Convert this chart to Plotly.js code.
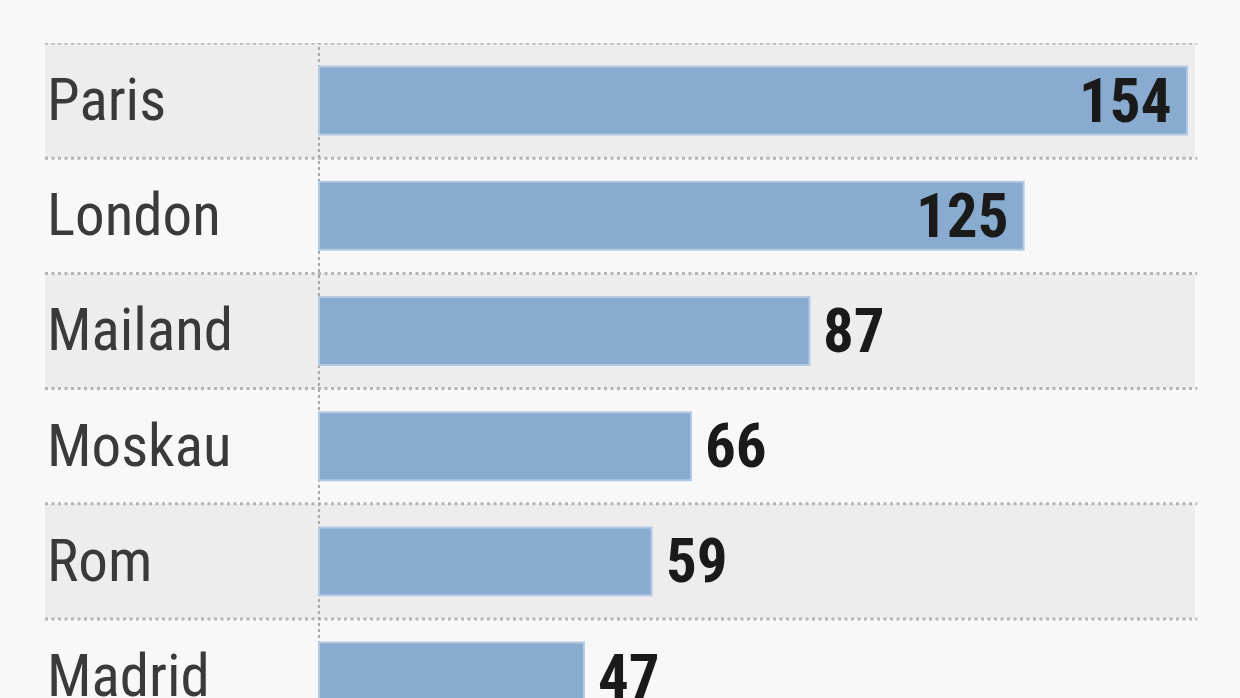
<!DOCTYPE html>
<html>
<head>
<meta charset="utf-8">
<script src="https://cdn.plot.ly/plotly-3.0.1.min.js"></script>
<style>
  html, body { margin: 0; padding: 0; background: #f8f8f8; }
  #chart { width: 1240px; height: 698px; }
</style>
</head>
<body>
<div id="chart"></div>
<script>
const cities = ['Paris', 'London', 'Mailand', 'Moskau', 'Rom', 'Madrid'];
const values = [154, 125, 87, 66, 59, 47];
const insideThreshold = 100;

const FONT = '"Roboto Condensed", "DejaVu Sans Condensed", sans-serif';

const shapes = [];
cities.forEach((c, i) => {
  if (i % 2 === 0) {
    shapes.push({
      type: 'rect', xref: 'paper', yref: 'y', x0: 0, x1: 1,
      y0: i - 0.5, y1: i + 0.5, fillcolor: '#ededee', line: { width: 0 }, layer: 'below'
    });
  }
});
for (let i = 0; i <= cities.length; i++) {
  shapes.push({
    type: 'line', xref: 'paper', yref: 'y', x0: 0, x1: 1.002,
    y0: i - 0.5, y1: i - 0.5,
    line: { color: '#b4b4b4', width: 3, dash: '3px,3.5px' }, layer: 'below'
  });
}
shapes.push({
  type: 'line', xref: 'x', yref: 'paper', x0: 0, x1: 0, y0: 0, y1: 1,
  line: { color: '#a8a8a8', width: 2, dash: '3px,3px' }, layer: 'below'
});

const annotations = [];
cities.forEach((c, i) => {
  annotations.push({
    xref: 'paper', yref: 'y', x: 0, y: c, xanchor: 'left', yanchor: 'middle',
    text: c, showarrow: false, xshift: 0, yshift: 1,
    font: { family: FONT, size: 59, color: '#3a3a3a' }
  });
  const inside = values[i] > insideThreshold;
  annotations.push({
    xref: 'x', yref: 'y', x: values[i], y: c,
    xanchor: inside ? 'right' : 'left', yanchor: 'middle',
    xshift: inside ? -14 : 12, yshift: 0,
    text: String(values[i]), showarrow: false,
    font: { family: FONT, size: 61, color: '#1a1a1a', weight: 'bold' }
  });
});

const trace = {
  type: 'bar', orientation: 'h', x: values, y: cities,
  width: 0.59,
  marker: { color: '#8aabd0', line: { color: '#b4c9e2', width: 2 } },
  hoverinfo: 'skip'
};

const layout = {
  width: 1240, height: 698,
  margin: { l: 45, r: 45, t: 43, b: 0 },
  paper_bgcolor: '#f8f8f8', plot_bgcolor: 'rgba(0,0,0,0)',
  showlegend: false,
  xaxis: { range: [-48.6, 155.4], showgrid: false, zeroline: false, showticklabels: false, ticks: '', fixedrange: true },
  yaxis: { type: 'category', categoryorder: 'array', categoryarray: cities,
           range: [5.186, -0.5], showgrid: false, zeroline: false, showticklabels: false, ticks: '', fixedrange: true },
  shapes: shapes,
  annotations: annotations
};

Plotly.newPlot('chart', [trace], layout, { staticPlot: true, displayModeBar: false });
</script>
</body>
</html>
